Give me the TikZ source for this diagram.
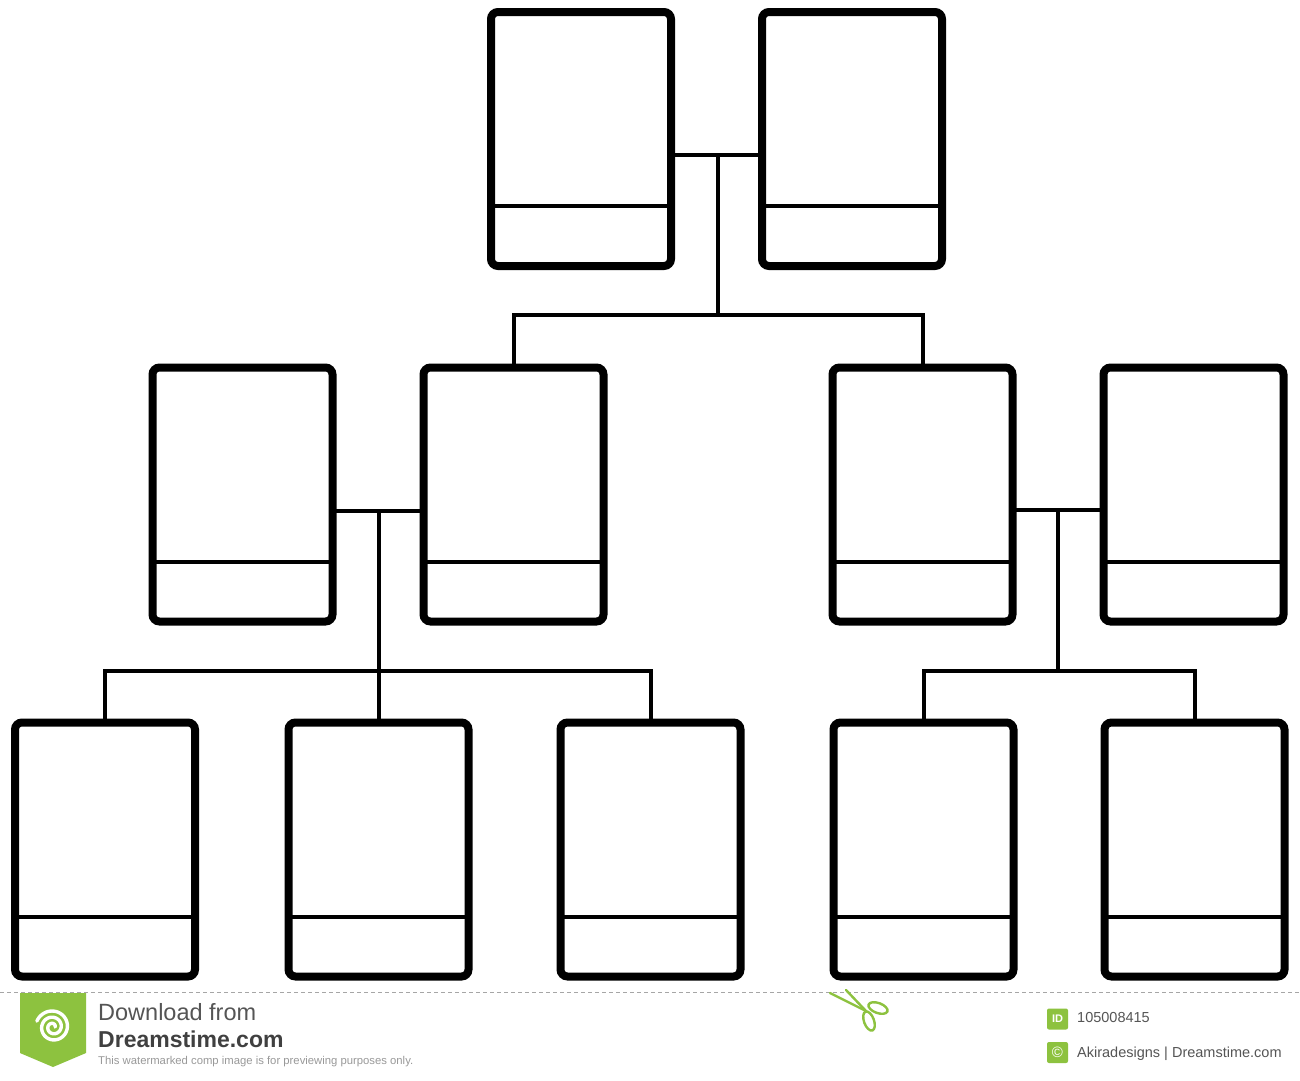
\documentclass[tikz,border=0pt]{standalone}
\usepackage{fontspec}
\setmainfont{Liberation Sans}
\usetikzlibrary{calc}
\definecolor{dtgreen}{HTML}{8DC23F}
\definecolor{dtgray}{HTML}{555555}
\begin{document}
\begin{tikzpicture}[x=1pt,y=1pt,
  card/.style={draw=black, line width=8pt, rounded corners=7pt, minimum width=180pt, minimum height=254pt, inner sep=0pt, outer sep=0pt, fill=white},
  link/.style={line width=4pt},
  foot/.style={anchor=base west, inner sep=0pt, text=dtgray},
  icon/.style={fill=dtgreen, rounded corners=2pt, minimum width=21pt, minimum height=21pt, inner sep=0pt, text=white, font=\bfseries\fontsize{11}{11}\selectfont}]
\fill[white] (0,0) rectangle (1300,-1080);
\useasboundingbox (0,0) rectangle (1300,-1080);
% junction coordinates
\coordinate (j1) at (718,-155);
\coordinate (bar1) at (718,-315);
\coordinate (j2) at (378.5,-511);
\coordinate (bar2) at (378.5,-671);
\coordinate (j3) at (1058,-510);
\coordinate (bar3) at (1058,-671);
% cards
\node[card] (t1) at (581,-139) {};
\node[card] (t2) at (852,-139) {};
\node[card] (m1) at (242.5,-494.5) {};
\node[card] (m2) at (513.5,-494.5) {};
\node[card] (m3) at (922.5,-494.5) {};
\node[card] (m4) at (1193.5,-494.5) {};
\node[card] (b1) at (105,-849.5) {};
\node[card] (b2) at (378.5,-849.5) {};
\node[card] (b3) at (650.5,-849.5) {};
\node[card] (b4) at (923.5,-849.5) {};
\node[card] (b5) at (1194.5,-849.5) {};
\foreach \n in {t1,t2,m1,m2,m3,m4,b1,b2,b3,b4,b5}
  \draw[link] ($(\n.south west)+(0,60)$) -- ($(\n.south east)+(0,60)$);
% connectors
\draw[link] (t1.east |- j1) -- (t2.west |- j1);
\draw[link] (j1) -- (bar1);
\draw[link] (m2.north) |- (bar1) -| (m3.north);
\draw[link] (m1.east |- j2) -- (m2.west |- j2);
\draw[link] (j2) -- (b2.north);
\draw[link] (b1.north) |- (bar2) -| (b3.north);
\draw[link] (m3.east |- j3) -- (m4.west |- j3);
\draw[link] (j3) -- (bar3);
\draw[link] (b4.north) |- (bar3) -| (b5.north);
% footer
\draw[gray!70, line width=1pt, dash pattern=on 4pt off 3pt] (0,-992) -- (1300,-992);
\fill[dtgreen] (20,-993) -- (86,-993) -- (86,-1053) -- (53,-1067) -- (20,-1053) -- cycle;
\draw[white, line width=3.4pt, line cap=round] plot[domain=0:880, samples=120, variable=\t]
  ({53+(2+\t/58)*cos(\t)}, {-1027+(2+\t/58)*sin(\t)});
\node[foot, font=\fontsize{23.5}{26}\selectfont] (dl) at (98,-1020) {Download from};
\node[foot, text=black!75, font=\bfseries\fontsize{23}{26}\selectfont] (ds) at (98,-1047) {Dreamstime.com};
\node[foot, text=gray!80, font=\fontsize{11.3}{13}\selectfont] (wm) at (98,-1064) {This watermarked comp image is for previewing purposes only.};
% scissors
\begin{scope}[dtgreen, line width=2.4pt, line cap=round]
\draw (830,-993) -- (866,-1011);
\draw (846,-990) -- (866,-1011);
\draw[rotate around={-20:(878,-1008)}] (878,-1008) ellipse (10pt and 5pt);
\draw[rotate around={20:(869,-1021)}] (869,-1021) ellipse (5pt and 10pt);
\end{scope}
\node[icon] (idi) at (1057.5,-1019) {ID};
\node[icon, font=\fontsize{15}{15}\selectfont] (cpi) at (1057.5,-1052.5) {©};
\node[foot, font=\fontsize{14.5}{16}\selectfont] (idt) at (1077,-1022) {105008415};
\node[foot, font=\fontsize{14.5}{16}\selectfont] (cpt) at (1077,-1057) {Akiradesigns | Dreamstime.com};
\end{tikzpicture}
\end{document}
